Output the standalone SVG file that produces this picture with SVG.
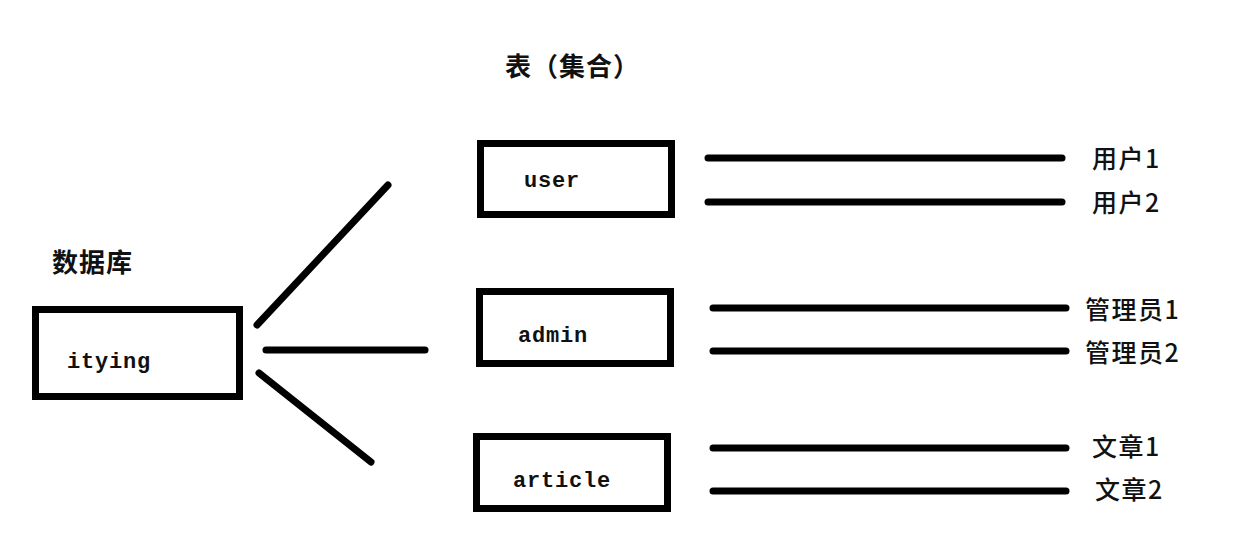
<svg xmlns="http://www.w3.org/2000/svg" width="1240" height="557" viewBox="0 0 1240 557">
<style>
.box{fill:#fff;stroke:#000;stroke-width:7}
.lbl{font-family:"Liberation Mono","DejaVu Sans Mono",monospace;font-size:22px;font-weight:bold;letter-spacing:0.8px;fill:#111}
.cn{font-family:"Noto Sans CJK SC","Noto Sans",sans-serif;font-size:25px;font-weight:500;letter-spacing:1.5px;fill:#111}
.hd{font-family:"Noto Sans CJK SC","Noto Sans",sans-serif;font-size:26px;font-weight:bold;letter-spacing:1px;fill:#111}
.ln{stroke:#000;stroke-width:7;stroke-linecap:round;fill:none}
</style>
<rect width="1240" height="557" fill="#fff"/>
<text class="hd" x="505" y="76">表（集合）</text>
<text class="hd" x="52" y="272">数据库</text>
<g id="connectors">
<line class="ln" x1="257" y1="325" x2="388" y2="185"/>
<line class="ln" x1="266" y1="350" x2="425" y2="350"/>
<line class="ln" x1="259" y1="373" x2="371" y2="462"/>
<line class="ln" x1="708" y1="158" x2="1062" y2="158"/>
<line class="ln" x1="708" y1="202" x2="1062" y2="202"/>
<line class="ln" x1="713" y1="308" x2="1066" y2="308"/>
<line class="ln" x1="713" y1="351" x2="1066" y2="351"/>
<line class="ln" x1="713" y1="448" x2="1066" y2="448"/>
<line class="ln" x1="713" y1="491" x2="1066" y2="491"/>
</g>
<g id="ityng">
<rect class="box" x="35.5" y="309.5" width="204" height="87"/>
<text class="lbl" x="67" y="368">itying</text>
</g>
<g id="user">
<rect class="box" x="480.5" y="143.5" width="191" height="71"/>
<text class="lbl" x="524" y="187">user</text>
</g>
<g id="admin">
<rect class="box" x="479.5" y="291.5" width="191" height="72"/>
<text class="lbl" x="518" y="342">admin</text>
</g>
<g id="article">
<rect class="box" x="476.5" y="436.5" width="191" height="72"/>
<text class="lbl" x="513" y="487">article</text>
</g>
<g id="labels">
<text class="cn" x="1092" y="168">用户1</text>
<text class="cn" x="1092" y="212">用户2</text>
<text class="cn" x="1085" y="319">管理员1</text>
<text class="cn" x="1085" y="362">管理员2</text>
<text class="cn" x="1092" y="456">文章1</text>
<text class="cn" x="1095" y="499">文章2</text>
</g>
</svg>
